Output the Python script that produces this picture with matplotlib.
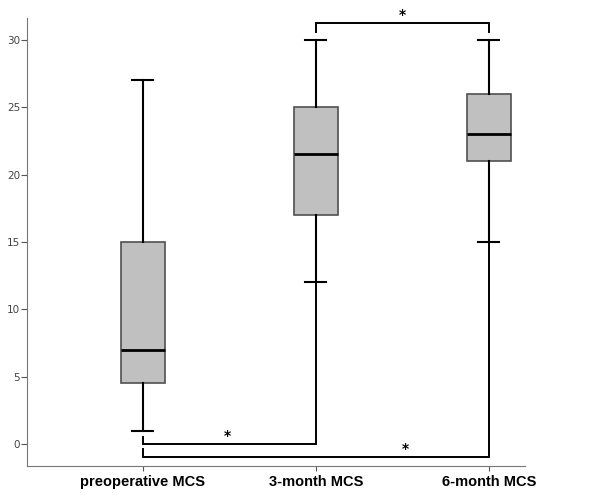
import matplotlib
matplotlib.use("Agg")
import matplotlib.pyplot as plt

groups = ["preoperative MCS", "3-month MCS", "6-month MCS"]
whislo = [1, 12, 15]
q1 = [4.5, 17, 21]
med = [7, 21.5, 23]
q3 = [15, 25, 26]
whishi = [27, 30, 30]

# significance brackets: (group a, group b, y level)
brackets = [(0, 1, 0.0), (0, 2, -0.95), (1, 2, 31.25)]

stats = []
for i, g in enumerate(groups):
    stats.append(dict(label=g, whislo=whislo[i], q1=q1[i], med=med[i],
                      q3=q3[i], whishi=whishi[i], fliers=[]))

fig = plt.figure(figsize=(6, 4.95), dpi=100)
ax = fig.add_axes([0.045, 0.0586, 0.83, 0.905])

ax.bxp(stats, positions=[0, 1, 2], widths=0.255, patch_artist=True,
       showfliers=False,
       boxprops=dict(facecolor="#c0c0c0", edgecolor="#505050", linewidth=1.2),
       medianprops=dict(color="black", linewidth=2),
       whiskerprops=dict(color="black", linewidth=1.5),
       capprops=dict(color="black", linewidth=1.5),
       capwidths=0.12)

# brackets
for a, b, y in brackets:
    if y > 30:
        ya, yb = whishi[a] + 0.6, whishi[b] + 0.6
    else:
        ya = y + 0.55
        yb = whislo[b]
    ax.plot([a, a, b, b], [ya, y, y, yb], color="black", lw=1.4,
            clip_on=False, solid_joinstyle="miter")
ax.text(0.49, 0.05, "*", ha="center", va="bottom", fontsize=10,
        fontweight="bold", clip_on=False)
ax.text(1.52, -0.9, "*", ha="center", va="bottom", fontsize=10,
        fontweight="bold", clip_on=False)
ax.text(1.5, 31.3, "*", ha="center", va="bottom", fontsize=10,
        fontweight="bold", clip_on=False)

ax.set_xlim(-0.67, 2.21)
ax.set_ylim(-1.63, 31.63)
ax.set_yticks([0, 5, 10, 15, 20, 25, 30])
ax.set_xticks([0, 1, 2])
ax.set_xticklabels(groups, fontsize=10.5, fontweight="bold",
                   family=["Liberation Sans", "DejaVu Sans"])
ax.tick_params(axis="y", labelsize=7.5, labelcolor="#444444", length=4,
               color="#555555", pad=1)
ax.tick_params(axis="x", length=3.5, color="#555555", pad=3)
for s in ["top", "right"]:
    ax.spines[s].set_visible(False)
for s in ["left", "bottom"]:
    ax.spines[s].set_color("#777777")

fig.savefig("out.png", dpi=100)
